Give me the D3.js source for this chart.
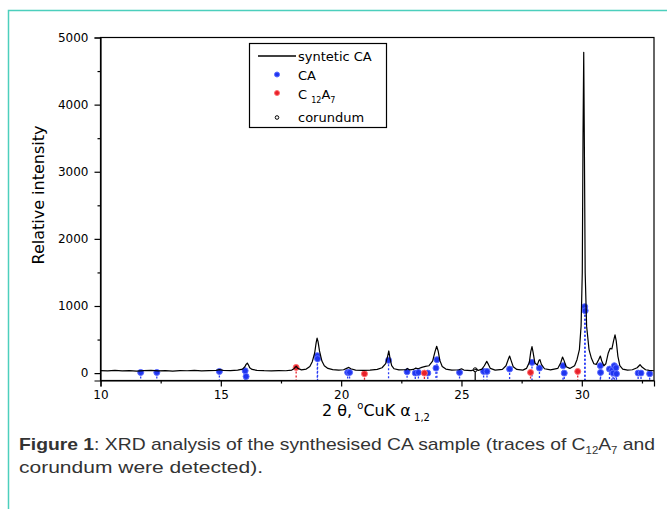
<!DOCTYPE html>
<html>
<head>
<meta charset="utf-8">
<script src="https://cdn.jsdelivr.net/npm/d3@7"></script>
<style>
  body { margin: 0; background: #fff; }
</style>
</head>
<body>
<svg id="chart" width="667" height="509" font-family="DejaVu Sans, sans-serif"></svg>
<script>
// measured XRD trace (2theta, counts)
const trace = [
  [10.0,38],[10.3,32],[10.6,40],[10.9,34],[11.2,37],[11.5,30],[11.8,36],[12.1,41],[12.4,33],[12.7,36],
  [13.0,31],[13.3,38],[13.6,35],[13.9,40],[14.2,33],[14.5,37],[14.8,42],[14.95,52],[15.1,40],[15.4,36],
  [15.7,44],[15.9,60],[16.0,95],[16.05,130],[16.1,150],[16.15,120],[16.2,80],[16.3,55],[16.5,42],[16.8,36],
  [17.1,33],[17.4,38],[17.7,35],[17.95,45],[18.05,70],[18.13,100],[18.2,70],[18.35,48],[18.55,60],[18.7,100],
  [18.8,170],[18.9,300],[18.96,450],[19.0,520],[19.04,470],[19.1,330],[19.2,180],[19.3,110],[19.45,70],[19.65,52],
  [19.9,45],[20.1,50],[20.25,75],[20.32,85],[20.4,65],[20.6,45],[20.9,40],[21.2,45],[21.5,55],[21.7,80],
  [21.85,140],[21.93,250],[21.98,330],[22.03,220],[22.1,110],[22.2,65],[22.4,48],[22.7,50],[22.75,70],[22.85,48],
  [23.0,55],[23.1,75],[23.2,65],[23.35,85],[23.5,100],[23.65,110],[23.8,180],[23.9,320],[23.97,400],[24.03,330],
  [24.1,190],[24.2,100],[24.35,60],[24.6,45],[24.9,50],[25.0,65],[25.1,45],[25.4,38],[25.55,50],[25.6,60],
  [25.7,40],[25.85,60],[25.95,110],[26.05,175],[26.12,130],[26.2,70],[26.4,45],[26.7,55],[26.85,110],[26.95,210],
  [27.0,255],[27.06,190],[27.15,95],[27.3,55],[27.55,45],[27.7,70],[27.82,160],[27.88,320],[27.93,395],[27.98,300],
  [28.05,150],[28.15,120],[28.22,190],[28.26,200],[28.32,130],[28.45,65],[28.7,48],[29.0,70],[29.12,150],[29.2,240],
  [29.26,190],[29.35,95],[29.5,70],[29.7,110],[29.8,200],[29.9,350],[29.97,700],[30.02,1500],[30.05,3500],[30.08,4780],
  [30.11,3200],[30.14,1500],[30.2,700],[30.3,350],[30.4,220],[30.5,140],[30.6,130],[30.7,200],[30.77,255],[30.83,180],
  [30.92,110],[31.0,140],[31.1,300],[31.18,370],[31.25,360],[31.32,480],[31.38,570],[31.43,480],[31.5,250],[31.58,110],
  [31.7,60],[31.9,45],[32.1,50],[32.3,80],[32.42,125],[32.5,90],[32.65,50],[32.8,40],[33.0,35]
];

// reference peak markers (2theta, plotted intensity)
const caPeaks = [
  [11.67,10],[12.34,10],[14.94,25],[16.01,35],[16.05,-50],[19.01,260],[19.02,215],[20.27,10],[20.35,10],
  [21.97,190],[22.74,20],[23.08,0],[23.21,10],[23.6,0],[23.94,75],[23.98,200],[24.92,10],[25.92,25],
  [26.06,25],[27.0,60],[27.93,160],[28.24,75],[29.22,110],[29.27,0],[30.12,990],[30.14,930],[30.77,110],
  [30.78,10],[31.15,60],[31.25,40],[31.3,0],[31.35,110],[31.42,80],[31.44,-10],[32.34,0],[32.46,0],[32.82,-10]
];
const c12a7Peaks = [[18.13,85],[20.97,-10],[23.46,0],[27.87,10],[29.83,25]];
const corundumPeaks = [[25.57,50]];

const xTicks = [10, 15, 20, 25, 30];
const xMinor = [12.5, 17.5, 22.5, 27.5, 32.5];
const yTicks = [0, 1000, 2000, 3000, 4000, 5000];
const yMinor = [500, 1500, 2500, 3500, 4500];

const svg = d3.select("#chart");
const margin = { left: 100.5, right: 654, top: 37.5, bottom: 380.5 };

const x = d3.scaleLinear().domain([10, 33]).range([margin.left, margin.right]);
const y = d3.scaleLinear().domain([-110, 5000]).range([margin.bottom, margin.top]);

// page frame
svg.append("path")
  .attr("d", "M8.5,509 V10.5 H667")
  .attr("fill", "none")
  .attr("stroke", "#4ccfbd")
  .attr("stroke-width", 1.5);

// drop lines + markers
function drawPhase(data, color, r, fill, stroke) {
  svg.append("g").selectAll("line")
    .data(data).enter().append("line")
    .attr("x1", d => x(d[0])).attr("x2", d => x(d[0]))
    .attr("y1", d => y(d[1])).attr("y2", y(-110))
    .attr("stroke", color)
    .attr("stroke-width", 1.3)
    .attr("stroke-dasharray", "2,2");
  svg.append("g").selectAll("circle")
    .data(data).enter().append("circle")
    .attr("cx", d => x(d[0])).attr("cy", d => y(d[1]))
    .attr("r", r)
    .attr("fill", fill)
    .attr("stroke", stroke)
    .attr("stroke-width", 1);
}
drawPhase(caPeaks, "#2b3cf5", 3, "#1f35f0", "#5c6cff");
drawPhase(c12a7Peaks, "#e8202a", 3, "#e8202a", "#ff7070");

svg.append("g").selectAll("line")
  .data(corundumPeaks).enter().append("line")
  .attr("x1", d => x(d[0])).attr("x2", d => x(d[0]))
  .attr("y1", d => y(d[1])).attr("y2", y(-110))
  .attr("stroke", "#000").attr("stroke-width", 1.2);
svg.append("g").selectAll("circle")
  .data(corundumPeaks).enter().append("circle")
  .attr("cx", d => x(d[0])).attr("cy", d => y(d[1]))
  .attr("r", 2).attr("fill", "#fff").attr("stroke", "#000").attr("stroke-width", 1);

// trace
const line = d3.line().x(d => x(d[0])).y(d => y(d[1]));
svg.append("path")
  .datum(trace)
  .attr("d", line)
  .attr("fill", "none")
  .attr("stroke", "#000")
  .attr("stroke-width", 1.2)
  .attr("stroke-linejoin", "round");

// frame
svg.append("rect")
  .attr("x", margin.left).attr("y", margin.top)
  .attr("width", margin.right - margin.left)
  .attr("height", margin.bottom - margin.top)
  .attr("fill", "none").attr("stroke", "#000").attr("stroke-width", 1.2);

// axes
svg.append("g")
  .attr("transform", `translate(0,${margin.bottom})`)
  .call(d3.axisBottom(x).tickValues(xTicks).tickSize(6).tickPadding(4).tickFormat(d3.format("d")));
svg.append("g")
  .attr("transform", `translate(0,${margin.bottom})`)
  .call(d3.axisBottom(x).tickValues(xMinor).tickSize(3).tickFormat(""))
  .select(".domain").remove();
svg.append("g")
  .attr("transform", `translate(${margin.left},0)`)
  .call(d3.axisLeft(y).tickValues(yTicks).tickSize(6).tickPadding(6).tickFormat(d3.format("d")));
svg.append("g")
  .attr("transform", `translate(${margin.left},0)`)
  .call(d3.axisLeft(y).tickValues(yMinor).tickSize(3).tickFormat(""))
  .select(".domain").remove();

svg.selectAll(".tick text")
  .style("font-family", "DejaVu Sans, sans-serif")
  .style("font-size", "12px")
  .attr("fill", "#000");
svg.selectAll(".tick line").attr("stroke", "#000").attr("stroke-width", 1.2);
svg.selectAll(".domain").attr("stroke", "#000").attr("stroke-width", 1.2);

// axis titles
svg.append("text")
  .attr("transform", "translate(43.5,195) rotate(-90)")
  .attr("text-anchor", "middle")
  .attr("font-size", 16)
  .text("Relative intensity");

const xt = svg.append("text")
  .attr("x", 376).attr("y", 416)
  .attr("text-anchor", "middle")
  .attr("font-size", 16);
xt.append("tspan").text("2 θ, ");
xt.append("tspan").attr("font-size", 10).attr("dy", -7).text("o");
xt.append("tspan").attr("dy", 7).text("CuK α");
xt.append("tspan").attr("font-size", 10).attr("dy", 5).text(" 1,2");

// legend
const lg = svg.append("g");
lg.append("rect")
  .attr("x", 249.5).attr("y", 43.5).attr("width", 137).attr("height", 84)
  .attr("fill", "#fff").attr("stroke", "#000").attr("stroke-width", 1.2);
lg.append("line")
  .attr("x1", 258).attr("x2", 296).attr("y1", 56).attr("y2", 56)
  .attr("stroke", "#000").attr("stroke-width", 1.5);
lg.append("circle").attr("cx", 277).attr("cy", 74.5).attr("r", 2.5)
  .attr("fill", "#1f35f0").attr("stroke", "#5c6cff");
lg.append("circle").attr("cx", 277).attr("cy", 93).attr("r", 2.5)
  .attr("fill", "#e8202a").attr("stroke", "#ff7070");
lg.append("circle").attr("cx", 277).attr("cy", 117.5).attr("r", 1.8)
  .attr("fill", "#fff").attr("stroke", "#000");
lg.append("text").attr("x", 298).attr("y", 61).attr("font-size", 13).text("syntetic CA");
lg.append("text").attr("x", 298).attr("y", 79.5).attr("font-size", 13).text("CA");
const c12 = lg.append("text").attr("x", 298).attr("y", 98.5).attr("font-size", 13);
c12.append("tspan").text("C ");
c12.append("tspan").attr("font-size", 8).attr("dy", 4).text("12");
c12.append("tspan").attr("dy", -4).text("A");
c12.append("tspan").attr("font-size", 8).attr("dy", 4).text("7");
lg.append("text").attr("x", 298).attr("y", 121.5).attr("font-size", 13).text("corundum");

// caption
const cap1 = svg.append("text")
  .attr("x", 19).attr("y", 450)
  .attr("font-family", "Liberation Sans, Arial, sans-serif")
  .attr("font-size", 17).attr("fill", "#333")
  .attr("textLength", 636).attr("lengthAdjust", "spacingAndGlyphs");
cap1.append("tspan").attr("font-weight", "bold").text("Figure 1");
cap1.append("tspan").text(": XRD analysis of the synthesised CA sample (traces of C");
cap1.append("tspan").attr("font-size", 10).attr("dy", 4).text("12");
cap1.append("tspan").attr("dy", -4).text("A");
cap1.append("tspan").attr("font-size", 10).attr("dy", 4).text("7");
cap1.append("tspan").attr("dy", -4).text(" and");
svg.append("text")
  .attr("x", 19).attr("y", 473)
  .attr("font-family", "Liberation Sans, Arial, sans-serif")
  .attr("font-size", 17).attr("fill", "#333")
  .attr("textLength", 244).attr("lengthAdjust", "spacingAndGlyphs")
  .text("corundum were detected).");
</script>
</body>
</html>
